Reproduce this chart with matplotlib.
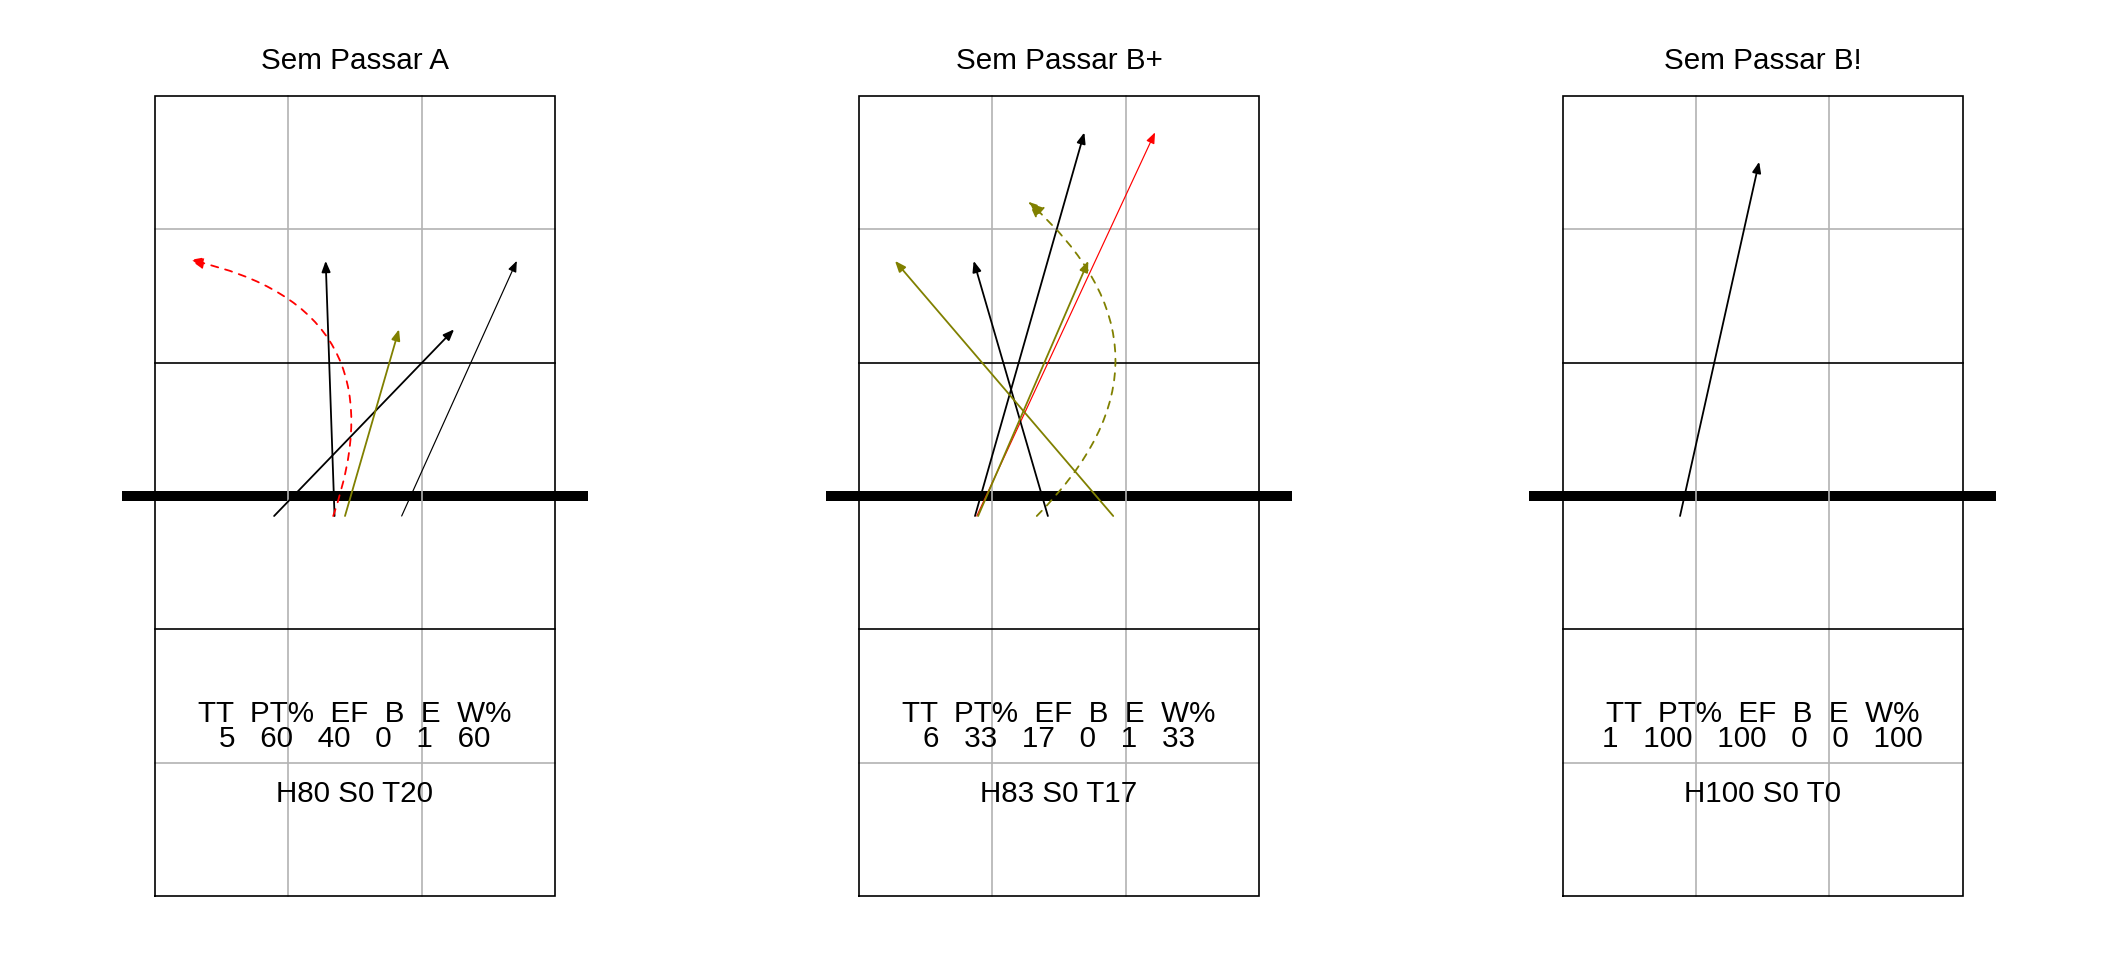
import matplotlib
matplotlib.use("Agg")
import matplotlib.pyplot as plt
from matplotlib.patches import FancyArrowPatch, ArrowStyle

plt.rcParams["font.family"] = ["Liberation Sans", "DejaVu Sans"]

# --- dados ---
titulos = ["Sem Passar A", "Sem Passar B+", "Sem Passar B!"]
cabecalho = ["TT", "PT%", "EF", "B", "E", "W%"]
tt = [5, 6, 1]
pt = [60, 33, 100]
ef = [40, 17, 100]
bb = [0, 0, 0]
ee = [1, 1, 0]
wp = [60, 33, 100]
h_pct = [80, 83, 100]
s_pct = [0, 0, 0]
t_pct = [20, 17, 0]

# arrows: panel index, start and end in court metres (net at y = 9)
painel = [0, 0, 0, 0, 0, 1, 1, 1, 1, 1, 1, 2]
x_ini = [2.68, 4.04, 4.275, 5.55, 4.01, 2.61, 2.65, 4.25, 5.72, 2.68, 4.00, 2.64]
y_ini = [8.55] * 12
x_fim = [6.73, 3.84, 5.49, 8.14, 0.79, 5.07, 6.66, 2.58, 0.81, 5.16, 3.81, 4.42]
y_fim = [12.75, 14.29, 12.75, 14.29, 14.31, 17.18, 17.18, 14.29, 14.29, 14.29, 15.62, 16.52]
tipo = ["preto", "preto", "oliva", "preto_fino", "vermelho_curva",
        "preto", "vermelho_fino", "preto", "oliva", "oliva", "oliva_curva",
        "preto"]

# style per arrow kind: colour, width (pt), curvature, dashed, head length/width
estilos = {
    "preto":          ("black",   1.3, 0.0,  False, 6.5, 2.6),
    "preto_fino":     ("black",   0.85, 0.0, False, 6.5, 2.6),
    "oliva":          ("#808000", 1.3, 0.0,  False, 6.5, 2.6),
    "vermelho_fino":  ("red",     0.85, 0.0, False, 6.5, 2.6),
    "vermelho_curva": ("red",     1.3, 0.56, True,  8.0, 3.4),
    "oliva_curva":    ("#808000", 1.3, 0.525, True, 9.5, 4.2),
}

CINZA = "#b3b3b3"
FS = 21.3

fig = plt.figure(figsize=(21.12, 9.6), dpi=100)
px = 400 / 9.0  # pixels per metre
court_left = [155.0, 859.0, 1562.7]

for i in range(3):
    left = (court_left[i] - px) / 2112
    bottom = (960 - (896 + 0.5 * px)) / 960
    ax = fig.add_axes([left, bottom, 11 * px / 2112, 19 * px / 960])
    ax.set_xlim(-1, 10)
    ax.set_ylim(-0.5, 18.5)
    ax.axis("off")

    # net
    ax.plot([-0.75, 9.75], [9, 9], color="black", lw=7.2,
            solid_capstyle="butt", zorder=1)
    # grey 3 m grid
    for xv in (3, 6):
        ax.plot([xv, xv], [0, 18], color=CINZA, lw=1.2, zorder=2)
    for yv in (3, 15):
        ax.plot([0, 9], [yv, yv], color=CINZA, lw=1.2, zorder=2)
    # attack lines and boundary
    for yv in (6, 12):
        ax.plot([0, 9], [yv, yv], color="black", lw=1.2, zorder=2)
    ax.plot([0, 9, 9, 0, 0], [0, 0, 18, 18, 0], color="black", lw=1.2,
            zorder=2, solid_joinstyle="miter")

    ax.text(4.5, 18.6, titulos[i], ha="center", va="baseline", fontsize=FS)
    ax.text(4.5, 3.92, "  ".join(cabecalho), ha="center", va="baseline", fontsize=FS)
    valores = [tt[i], pt[i], ef[i], bb[i], ee[i], wp[i]]
    ax.text(4.5, 3.345, "   ".join(str(v) for v in valores),
            ha="center", va="baseline", fontsize=FS)
    ax.text(4.5, 2.12, f"H{h_pct[i]} S{s_pct[i]} T{t_pct[i]}",
            ha="center", va="baseline", fontsize=FS)

    for k in range(len(painel)):
        if painel[k] != i:
            continue
        cor, lw, rad, tracejado, hl, hw = estilos[tipo[k]]
        seta = FancyArrowPatch(
            (x_ini[k], y_ini[k]), (x_fim[k], y_fim[k]),
            arrowstyle=ArrowStyle("-|>", head_length=hl, head_width=hw),
            connectionstyle=f"arc3,rad={rad}",
            mutation_scale=1, shrinkA=0, shrinkB=0,
            color=cor, lw=lw,
            linestyle=(0, (4.0, 4.0)) if tracejado else "-",
            zorder=3,
        )
        ax.add_patch(seta)

fig.savefig("out.png", dpi=100)
